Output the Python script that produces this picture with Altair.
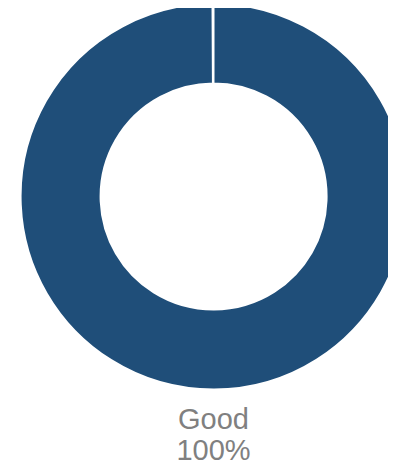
import altair as alt
import pandas as pd

categories = ["Good"]
shares = [100]

df = pd.DataFrame({"category": categories, "share": shares})
df["label"] = [f"{v}%" for v in shares]

CX, CY = 205.5, 188.5

base = alt.Chart(df)

arc = base.mark_arc(
    outerRadius=193, innerRadius=113, stroke="white", strokeWidth=2
).encode(
    theta=alt.Theta("share:Q", stack=True,
                    scale=alt.Scale(domain=[0, 100], range=[0, 6.278])),
    color=alt.Color("category:N", scale=alt.Scale(domain=categories, range=["#1F4E79"]), legend=None),
    x=alt.value(CX),
    y=alt.value(CY),
)

name = base.mark_text(font="Arial", fontSize=29, color="#808080", baseline="alphabetic").encode(
    text="category:N", x=alt.value(CX), y=alt.value(421)
)
pct = base.mark_text(font="Arial", fontSize=29, color="#808080", baseline="alphabetic").encode(
    text="label:N", x=alt.value(CX), y=alt.value(452)
)

chart = alt.layer(arc, name, pct).properties(
    width=380, height=459, padding=0, autosize=alt.AutoSizeParams(type="none")
).configure_view(stroke=None)

chart.save("out.html", embed_options={"renderer": "svg", "actions": False})
